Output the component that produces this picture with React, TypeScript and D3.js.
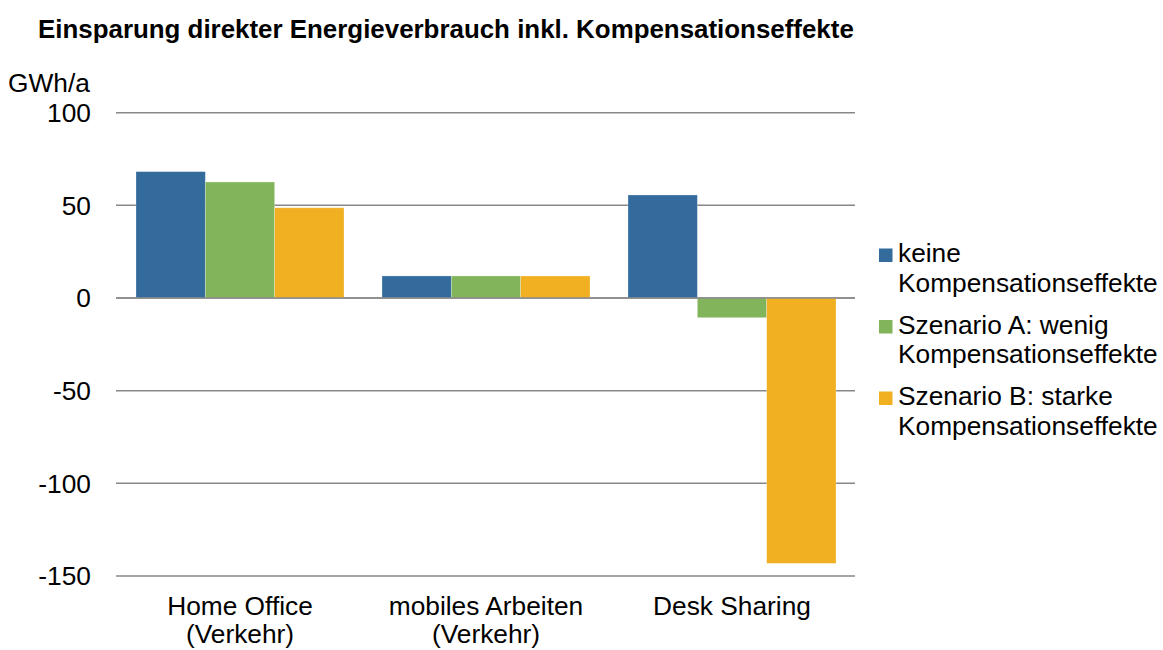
import React from "react";
import * as d3 from "d3";

const categories = ["Home Office|(Verkehr)", "mobiles Arbeiten|(Verkehr)", "Desk Sharing"];
const seriesNames = ["keine|Kompensationseffekte", "Szenario A: wenig|Kompensationseffekte", "Szenario B: starke|Kompensationseffekte"];
const keineValues = [68.2, 11.9, 55.6];
const szenarioAValues = [62.6, 11.9, -10.6];
const szenarioBValues = [48.7, 11.9, -143.2];
const yTicks = [100, 50, 0, -50, -100, -150];
const colors = ["#336b9d", "#82b55b", "#f0b021"];

const title = "Einsparung direkter Energieverbrauch inkl. Kompensationseffekte";
const unit = "GWh/a";

const W = 1163;
const H = 650;
const FONT = "'Liberation Sans', Arial, sans-serif";
const FS = 26.3;

export default function App() {
  const series = [keineValues, szenarioAValues, szenarioBValues];
  const x0 = d3.scaleBand<string>().domain(categories).range([117, 855]).paddingInner(0.1545).paddingOuter(0.0772);
  const x1 = d3.scaleBand<number>().domain([0, 1, 2]).range([0, x0.bandwidth()]).padding(0);
  const y = d3.scaleLinear().domain([-150, 100]).range([576, 112.7]);

  return (
    <svg width={W} height={H} style={{ position: "absolute", left: 0, top: 0, background: "#fff" }} fontFamily={FONT}>
      <text x={38} y={38} fontSize={25.9} fontWeight="bold" fill="#000">{title}</text>
      <text x={8} y={92} fontSize={FS} fill="#000">{unit}</text>
      {yTicks.map((t) => (
        <g key={t}>
          <line x1={116} x2={855} y1={y(t)} y2={y(t)} stroke="#888" strokeWidth={1.5} />
          <text x={91} y={y(t)} dy="0.35em" textAnchor="end" fontSize={FS} fill="#000">{t}</text>
        </g>
      ))}
      {categories.map((c, ci) => (
        <g key={c} transform={`translate(${x0(c)},0)`}>
          {series.map((vals, si) => {
            const v = vals[ci];
            return (
              <rect key={si} x={x1(si)} width={x1.bandwidth()} y={Math.min(y(v), y(0))} height={Math.abs(y(v) - y(0))} fill={colors[si]} stroke="#ffffff" strokeOpacity={0.35} strokeWidth={0.75} />
            );
          })}
        </g>
      ))}
      <line x1={116} x2={855} y1={y(0)} y2={y(0)} stroke="#888" strokeWidth={1.5} />
      {categories.map((c) => {
        const cx = (x0(c) as number) + x0.bandwidth() / 2;
        return (
          <text key={c} x={cx} y={615} textAnchor="middle" fontSize={FS} fill="#000">
            {c.split("|").map((line, li) => (
              <tspan key={li} x={cx} y={615 + li * 27.5}>{line}</tspan>
            ))}
          </text>
        );
      })}
      {seriesNames.map((s, si) => {
        const by = 262 + si * 71.5;
        return (
          <g key={s}>
            <rect x={879} y={by - 13.5} width={13.5} height={13.5} fill={colors[si]} />
            <text fontSize={FS} fill="#000">
              {s.split("|").map((line, li) => (
                <tspan key={li} x={898} y={by + li * 29.5}>{line}</tspan>
              ))}
            </text>
          </g>
        );
      })}
    </svg>
  );
}
